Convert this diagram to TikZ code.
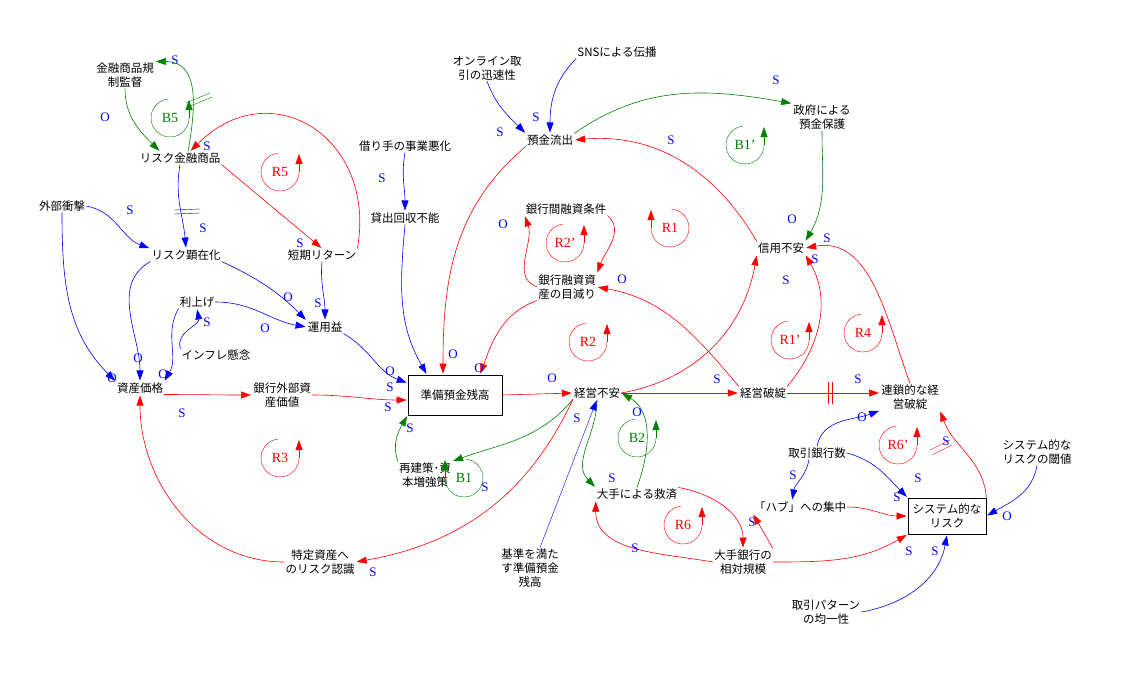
\documentclass[tikz,border=0pt]{standalone}
\usepackage{fontspec}
\setmainfont{Liberation Serif}
\newfontfamily\jp{Noto Sans CJK JP}
\usetikzlibrary{arrows.meta}
\begin{document}
\begin{tikzpicture}[x=1pt,y=-1pt,
 v/.style={font=\jp\fontsize{11.5}{14}\selectfont,align=center,inner sep=1pt},
 bx/.style={v,draw,thick,minimum height=40pt},
 lb/.style={font=\fontsize{13}{13}\selectfont,text=blue},
 e/.style={-{Triangle[length=10pt,width=7pt]},semithick,shorten >=1pt},
 re/.style={e,red},be/.style={e,blue},ge/.style={e,green!50!black},
 lp/.style={font=\fontsize{14}{14}\selectfont},
 la/.style={-{Triangle[length=10pt,width=7pt]}}]
\useasboundingbox (0,0) rectangle (1121,678);
% nodes
\node[v] (kinyu) at (125,75) {金融商品規\\制監督};
\node[v] (rkinyu) at (180,158) {リスク金融商品};
\node[v] (gaibu) at (62,206) {外部衝撃};
\node[v] (rken) at (186,255) {リスク顕在化};
\node[v] (tanki) at (322,255) {短期リターン};
\node[v] (kariate) at (405,146) {借り手の事業悪化};
\node[v] (kashi) at (405,218) {貸出回収不能};
\node[v] (riage) at (197,302) {利上げ};
\node[v] (unyou) at (325,327) {運用益};
\node[v] (infl) at (216,355) {インフレ懸念};
\node[v] (shisan) at (140,388) {資産価格};
\node[v] (gshisan) at (282,395) {銀行外部資\\産価値};
\node[bx,minimum width=94pt] (junbi) at (455,395) {準備預金残高};
\node[v] (online) at (487,68) {オンライン取\\引の迅速性};
\node[v] (sns) at (617,52) {SNSによる伝播};
\node[v] (yokin) at (550,140) {預金流出};
\node[v] (seifu) at (822,117) {政府による\\預金保護};
\node[v] (ginko) at (566,209) {銀行間融資条件};
\node[v] (mokugen) at (567,287) {銀行融資資\\産の目減り};
\node[v] (shinyou) at (781,248) {信用不安};
\node[v] (keiei) at (597,393) {経営不安};
\node[v] (hatan) at (763,393) {経営破綻};
\node[v] (rensa) at (910,397) {連鎖的な経\\営破綻};
\node[v] (saiken) at (425,475) {再建策･資\\本増強策};
\node[v] (kijun) at (530,568) {基準を満た\\す準備預金\\残高};
\node[v] (tokutei) at (320,562) {特定資産へ\\のリスク認識};
\node[v] (oote) at (637,494) {大手による救済};
\node[v] (torihiki) at (817,453) {取引銀行数};
\node[v] (hub) at (800,507) {「ハブ」への集中};
\node[v] (ootesize) at (743,562) {大手銀行の\\相対規模};
\node[bx,minimum width=78pt,minimum height=36pt] (system) at (947,516) {システム的な\\リスク};
\node[v] (thr) at (1037,452) {システム的な\\リスクの閾値};
\node[v] (pattern) at (826,612) {取引パターン\\の均一性};
% edges
\draw[ge] (kinyu.south) to[out=-90,in=135] ([xshift=-20pt]rkinyu.north);
\draw[ge] ([xshift=8pt]rkinyu.north) to[out=80,in=0,looseness=1.2] (kinyu.north east);
\draw[green!50!black,thin] (186,103)--(210,93) (188,107)--(212,97);
\draw[re] (tanki.north east) to[out=80,in=45,looseness=1.5] ([xshift=10pt]rkinyu.north);
\draw[re] (rkinyu.south east) -- (tanki.north);
\draw[be] (rkinyu.south) to[out=-100,in=95] (rken.north);
\draw[blue,thin] (174,210)--(200,209) (174,214)--(200,213);
\draw[be] (gaibu.east) to[out=-10,in=160] (rken.north west);
\draw[be] (gaibu.south) to[out=-90,in=135] (shisan.north west);
\draw[be] (rken.south west) to[out=-150,in=90] (shisan.north);
\draw[be] (rken.south east) to[out=-25,in=135] (unyou.north west);
\draw[be] (tanki.south) to[out=-95,in=90] (unyou.north);
\draw[be] (riage.east) to[out=0,in=170] (unyou.west);
\draw[be] (riage.south west) to[out=-120,in=60] (shisan.north east);
\draw[be] (infl.north west) to[out=110,in=-80] (riage.south);
\draw[be] (kariate.south) to[out=-100,in=90] (kashi.north);
\draw[be] (kashi.south) to[out=-95,in=120] ([xshift=-28pt]junbi.north);
\draw[be] (unyou.south east) to[out=-30,in=160] (junbi.west|-{(0,383)});
\draw[re] (shisan.south east) to[out=0,in=180] (gshisan.west);
\draw[re] (gshisan.east) to[out=0,in=180] (junbi.west|-{(0,400)});
\draw[re] (yokin.south west) to[out=-140,in=90] ([xshift=-12pt]junbi.north);
\draw[re] (mokugen.south west) to[out=-160,in=70] ([xshift=25pt]junbi.north);
\draw[re] (junbi.east) -- (keiei.west);
\draw[be] (online.south) to[out=-70,in=135] (yokin.north west);
\draw[be] (sns.south west) to[out=-135,in=90] (yokin.north);
\draw[ge] (yokin.north east) to[out=35,in=170] (seifu.north west);
\draw[ge] (seifu.south) to[out=-90,in=60] (shinyou.north east);
\draw[re] (shinyou.north west) to[out=120,in=5] (yokin.east);
\draw[re] (mokugen.west) to[out=160,in=-70] (ginko.south west);
\draw[re] (ginko.south east) to[out=-40,in=70] (mokugen.north east);
\draw[re] (keiei.east) to[out=10,in=-100] (shinyou.south west);
\draw[re] (hatan.north east) to[out=50,in=-60] (shinyou.south east);
\draw[re] (rensa.north) to[out=110,in=10] (shinyou.east);
\draw[re] (hatan.north west) to[out=130,in=-10] (mokugen.east);
\draw[re] (keiei.east) -- (hatan.west);
\draw[re] (hatan.east) -- (rensa.west|-hatan);
\draw[red,thin] (828,382)--(828,404) (832,382)--(832,404);
\draw[be] (torihiki.north) to[out=80,in=-160] (rensa.south west);
\draw[be] ([xshift=-8pt]torihiki.south) to[out=-100,in=80] ([xshift=-8pt]hub.north);
\draw[be] (torihiki.east) to[out=-15,in=135] (system.north west);
\draw[re] (hub.east) to[out=0,in=180] (system.west);
\draw[re] (system.north east) to[out=95,in=-70] (rensa.south east);
\draw[red,thin] (930,450)--(950,440) (932,455)--(952,445);
\draw[be] (thr.south) to[out=-100,in=30] (system.east);
\draw[re] (ootesize.east) to[out=0,in=-150] (system.south west);
\draw[be] (pattern.east) to[out=10,in=-100] (system.south);
\draw[re] (ootesize.north east) -- (hub.south west);
\draw[re] (oote.north east) to[out=-10,in=90] (ootesize.north);
\draw[re] (ootesize.west) to[out=170,in=-90] (oote.south west);
\draw[ge] (keiei.south) to[out=-90,in=135] (oote.north west);
\draw[ge] (oote.north) to[out=70,in=-30] (keiei.east);
\draw[ge] (keiei.south west) to[out=-130,in=20] (saiken.north east);
\draw[ge] (saiken.north west) to[out=110,in=-120] (junbi.south west);
\draw[re] (keiei.south west) to[out=-115,in=10] (tokutei.east);
\draw[re] (tokutei.west) to[out=180,in=-90] (shisan.south);
\draw[be,thin] ([xshift=10pt]kijun.north) -- (keiei.south);
% S/O labels
\foreach \t/\x/\y in {O/105/117,S/175/60,S/207/146,S/300/243,S/203/228,S/130/210,O/112/378,O/138/358,
 O/288/297,S/318/303,O/265/328,O/163/374,S/207/322,S/382/178,O/390/371,S/390/387,S/182/413,S/388/407,
 O/453/354,O/479/368,O/552/378,S/500/132,S/536/117,S/776/80,O/792/219,S/671/140,O/503/224,O/622/279,
 S/786/280,S/815/259,S/827/238,S/717/379,S/858/379,O/862/417,S/793/475,S/918/478,S/897/497,S/946/441,
 O/1007/516,S/909/551,S/935/551,S/752/522,S/635/548,S/612/478,O/637/412,S/485/487,S/410/428,S/373/572,S/577/418}
 \node[lb] at (\x,\y) {\t};
% loop markers
\foreach \n/\x/\y/\c in {B5/170/118/green!50!black,R5/280/172/red,R2'/565/243/red,R2/588/342/red,
 B1'/745/145/green!50!black,R1'/790/340/red,R4/863/333/red,R3/280/458/red,B2/637/438/green!50!black,R6/683/525/red,R6'/898/445/red}
 {\node[lp,text=\c] at (\x,\y) {\n};
  \draw[\c] (\x,\y) ++(265:19) arc (265:0:19);
  \draw[\c,la] (\x,\y) ++(19,0) -- ++(0,-18);}
\foreach \n/\x/\y/\c in {R1/670/228/red,B1/464/478/green!50!black}
 {\node[lp,text=\c] at (\x,\y) {\n};
  \draw[\c] (\x,\y) ++(-85:19) arc (-85:180:19);
  \draw[\c,la] (\x,\y) ++(-19,0) -- ++(0,-18);}
\end{tikzpicture}
\end{document}
